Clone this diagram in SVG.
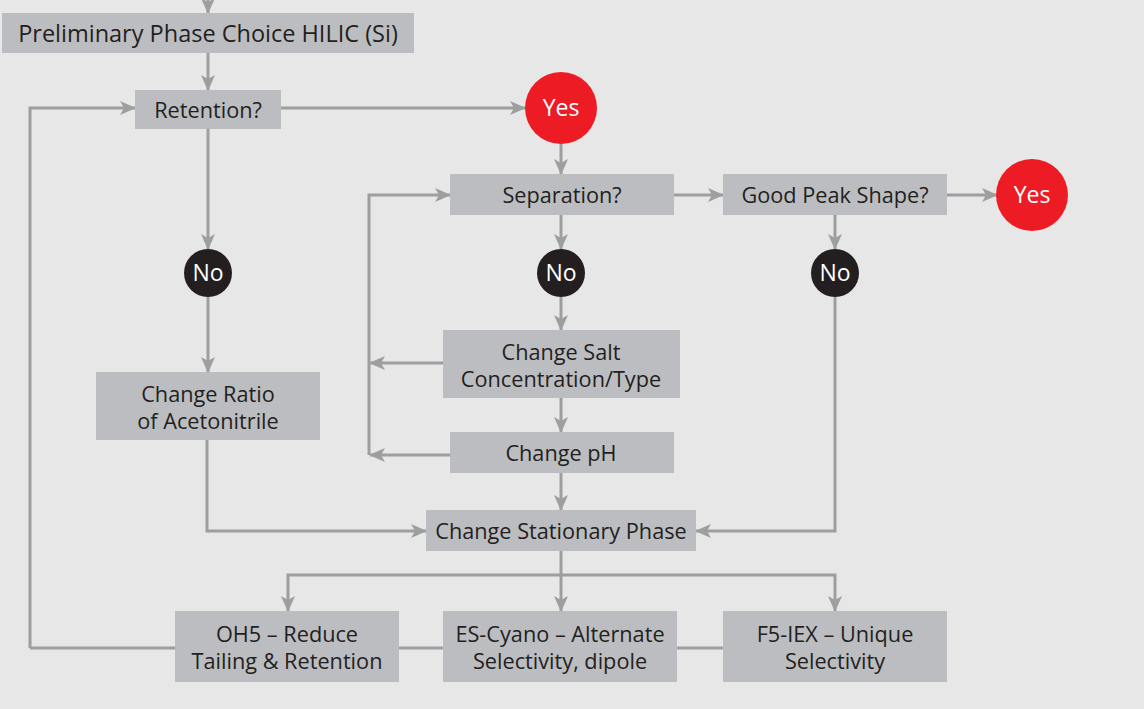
<svg xmlns="http://www.w3.org/2000/svg" width="1144" height="709" viewBox="0 0 1144 709">
<style>
.box{fill:#bcbdc0}
.t{font-family:"Open Sans","Liberation Sans",sans-serif;font-size:21.7px;fill:#231f20;text-anchor:middle}
.big{font-size:23.5px}
.tw{font-family:"Open Sans","Liberation Sans",sans-serif;font-size:23px;fill:#ffffff;text-anchor:middle}
.ln{fill:none;stroke:#9d9ea0;stroke-width:3}
.yes{fill:#ed1c24}
.no{fill:#231f20}
</style>
<defs>
<marker id="ah" markerUnits="userSpaceOnUse" markerWidth="16" markerHeight="14" refX="15" refY="7" orient="auto">
<path d="M0,0 L16,7 L0,14 L4,7 z" fill="#9d9ea0"/>
</marker>
</defs>
<rect width="1144" height="709" fill="#e7e7e7"/>
<g id="connectors">
<path class="ln" d="M208,0 V13" marker-end="url(#ah)"/>
<path class="ln" d="M208,53 V90" marker-end="url(#ah)"/>
<path class="ln" d="M281,108 H525" marker-end="url(#ah)"/>
<path class="ln" d="M30,648 V108 H135" marker-end="url(#ah)"/>
<path class="ln" d="M30,648 H723"/>
<path class="ln" d="M561,144 V174" marker-end="url(#ah)"/>
<path class="ln" d="M369,455 V195 H450" marker-end="url(#ah)"/>
<path class="ln" d="M674,195 H723" marker-end="url(#ah)"/>
<path class="ln" d="M947,195 H997" marker-end="url(#ah)"/>
<path class="ln" d="M208,129 V249" marker-end="url(#ah)"/>
<path class="ln" d="M561,215 V249" marker-end="url(#ah)"/>
<path class="ln" d="M835,215 V249" marker-end="url(#ah)"/>
<path class="ln" d="M208,297 V372" marker-end="url(#ah)"/>
<path class="ln" d="M561,297 V330" marker-end="url(#ah)"/>
<path class="ln" d="M443,363 H370" marker-end="url(#ah)"/>
<path class="ln" d="M450,455 H370" marker-end="url(#ah)"/>
<path class="ln" d="M561,398 V432" marker-end="url(#ah)"/>
<path class="ln" d="M561,473 V510" marker-end="url(#ah)"/>
<path class="ln" d="M207,440 V531 H426" marker-end="url(#ah)"/>
<path class="ln" d="M835,297 V531 H696" marker-end="url(#ah)"/>
<path class="ln" d="M561,551 V611" marker-end="url(#ah)"/>
<path class="ln" d="M561,575 H288 V611" marker-end="url(#ah)"/>
<path class="ln" d="M561,575 H835 V611" marker-end="url(#ah)"/>
</g>
<g id="preliminary"><rect class="box" x="2" y="13" width="412" height="40"/><text class="t big" x="208" y="42">Preliminary Phase Choice HILIC (Si)</text></g>
<g id="retention"><rect class="box" x="135" y="90" width="146" height="39"/><text class="t" x="208" y="118">Retention?</text></g>
<g id="yes1"><circle class="yes" cx="561" cy="108" r="36"/><text class="tw" x="561" y="116">Yes</text></g>
<g id="separation"><rect class="box" x="450" y="174" width="224" height="41"/><text class="t" x="562" y="203">Separation?</text></g>
<g id="goodpeak"><rect class="box" x="723" y="174" width="224" height="41"/><text class="t" x="835" y="203">Good Peak Shape?</text></g>
<g id="yes2"><circle class="yes" cx="1032" cy="195" r="36"/><text class="tw" x="1032" y="203">Yes</text></g>
<g id="no1"><circle class="no" cx="208" cy="273" r="24"/><text class="tw" x="208" y="281">No</text></g>
<g id="no2"><circle class="no" cx="561" cy="273" r="24"/><text class="tw" x="561" y="281">No</text></g>
<g id="no3"><circle class="no" cx="835" cy="273" r="24"/><text class="tw" x="835" y="281">No</text></g>
<g id="ratio"><rect class="box" x="96" y="372" width="224" height="68"/><text class="t" x="208" y="402">Change Ratio</text><text class="t" x="208" y="429">of Acetonitrile</text></g>
<g id="salt"><rect class="box" x="443" y="330" width="237" height="68"/><text class="t" x="561" y="360">Change Salt</text><text class="t" x="561" y="387">Concentration/Type</text></g>
<g id="ph"><rect class="box" x="450" y="432" width="224" height="41"/><text class="t" x="561" y="461">Change pH</text></g>
<g id="stationary"><rect class="box" x="426" y="510" width="270" height="41"/><text class="t" x="561" y="539">Change Stationary Phase</text></g>
<g id="oh5"><rect class="box" x="175" y="611" width="224" height="71"/><text class="t" x="287" y="642">OH5 – Reduce</text><text class="t" x="287" y="669">Tailing &amp; Retention</text></g>
<g id="escyano"><rect class="box" x="443" y="611" width="234" height="71"/><text class="t" x="560" y="642">ES-Cyano – Alternate</text><text class="t" x="560" y="669">Selectivity, dipole</text></g>
<g id="f5iex"><rect class="box" x="723" y="611" width="224" height="71"/><text class="t" x="835" y="642">F5-IEX – Unique</text><text class="t" x="835" y="669">Selectivity</text></g>
</svg>
